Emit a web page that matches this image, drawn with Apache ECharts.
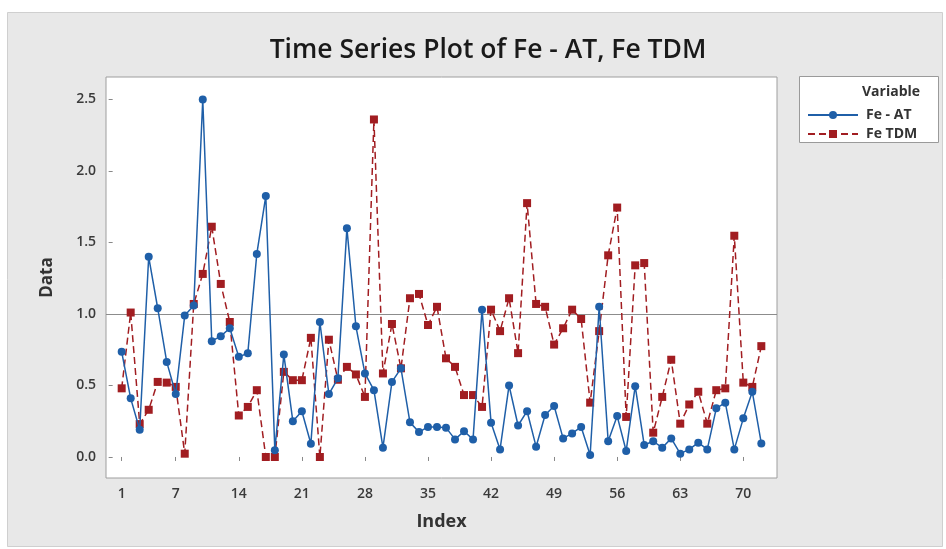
<!DOCTYPE html>
<html>
<head>
<meta charset="utf-8">
<script src="https://cdn.jsdelivr.net/npm/echarts/dist/echarts.min.js"></script>
<style>
  html, body { margin: 0; padding: 0; background: #ffffff; }
  #chart { width: 946px; height: 549px; }
</style>
</head>
<body>
<div id="chart"></div>
<script>
// ---- Data ----
const indexValues = Array.from({ length: 72 }, (_, i) => i + 1);
const feAT = [
  0.735, 0.41, 0.19, 1.40, 1.04, 0.665, 0.44, 0.99, 1.06, 2.50,
  0.81, 0.845, 0.90, 0.70, 0.725, 1.42, 1.825, 0.047, 0.716, 0.25,
  0.32, 0.093, 0.944, 0.44, 0.55, 1.60, 0.914, 0.584, 0.467, 0.065,
  0.525, 0.62, 0.242, 0.174, 0.21, 0.21, 0.205, 0.123, 0.18, 0.123,
  1.03, 0.24, 0.053, 0.50, 0.22, 0.32, 0.072, 0.293, 0.356, 0.13,
  0.165, 0.21, 0.014, 1.05, 0.11, 0.286, 0.042, 0.495, 0.084, 0.11,
  0.065, 0.13, 0.023, 0.053, 0.10, 0.053, 0.34, 0.38, 0.053, 0.27,
  0.456, 0.095
];
const feTDM = [
  0.48, 1.01, 0.23, 0.33, 0.525, 0.52, 0.49, 0.023, 1.07, 1.28,
  1.61, 1.21, 0.944, 0.29, 0.35, 0.467, 0.0, 0.0, 0.595, 0.537,
  0.537, 0.833, 0.0, 0.82, 0.54, 0.63, 0.577, 0.42, 2.36, 0.584,
  0.93, 0.62, 1.11, 1.14, 0.923, 1.05, 0.69, 0.63, 0.433, 0.433,
  0.35, 1.03, 0.88, 1.11, 0.726, 1.775, 1.07, 1.05, 0.786, 0.90,
  1.03, 0.965, 0.38, 0.88, 1.41, 1.744, 0.28, 1.34, 1.356, 0.17,
  0.42, 0.68, 0.233, 0.367, 0.456, 0.233, 0.467, 0.48, 1.547, 0.52,
  0.49, 0.775
];
const xTickLabels = [1, 7, 14, 21, 28, 35, 42, 49, 56, 63, 70];
const yTickLabels = [0, 0.5, 1.0, 1.5, 2.0, 2.5];
const referenceLevel = 1.0;
const seriesNames = ['Fe - AT', 'Fe TDM'];

// ---- Chart ----
const FONT = '"Open Sans", "Noto Sans", sans-serif';
const BLUE = '#1f5fa8';
const RED = '#a11d21';
const chart = echarts.init(document.getElementById('chart'), null, { renderer: 'canvas' });

const option = {
  backgroundColor: '#ffffff',
  animation: false,
  title: {
    text: 'Time Series Plot of Fe - AT, Fe TDM',
    left: 483,
    top: 32,
    textAlign: 'center',
    textStyle: { fontFamily: FONT, fontSize: 26.5, fontWeight: 600, color: '#1a1a1a' }
  },
  graphic: [
    {
      type: 'rect', z: -10, silent: true,
      shape: { x: 7.5, y: 12.5, width: 935, height: 534 },
      style: { fill: '#e8e8e8', stroke: '#cfcfcf', lineWidth: 1 }
    },
    {
      type: 'rect', z: -5, silent: true,
      shape: { x: 799.5, y: 76.5, width: 139, height: 66 },
      style: { fill: '#ffffff', stroke: '#9a9a9a', lineWidth: 1 }
    },
    {
      type: 'text', z: 10, silent: true,
      x: 862, y: 92,
      style: { text: 'Variable', fontFamily: FONT, fontSize: 14, fontWeight: 'bold', fill: '#333', verticalAlign: 'middle', align: 'left' }
    }
  ],
  legend: {
    orient: 'vertical',
    left: 802,
    top: 103,
    itemWidth: 50,
    itemHeight: 10,
    itemGap: 5,
    textStyle: { fontFamily: FONT, fontSize: 14, lineHeight: 14, fontWeight: 'bold', color: '#333', padding: [0, 0, 0, 3] },
    data: seriesNames
  },
  grid: {
    left: 106, right: 169, top: 77, bottom: 71,
    show: true, backgroundColor: '#ffffff', borderColor: '#9e9e9e', borderWidth: 1
  },
  xAxis: {
    type: 'value',
    min: -0.74,
    max: 73.74,
    splitLine: { show: false },
    axisLine: { show: false },
    axisTick: { show: true, customValues: xTickLabels, length: 4, lineStyle: { color: '#888' } },
    axisLabel: {
      customValues: xTickLabels, margin: 9,
      fontFamily: FONT, fontSize: 14, fontWeight: 600, color: '#3a3a3a'
    },
    name: 'Index',
    nameLocation: 'middle',
    nameGap: 35,
    nameTextStyle: { fontFamily: FONT, fontSize: 18, fontWeight: 'bold', color: '#333' }
  },
  yAxis: {
    type: 'value',
    min: -0.147,
    max: 2.657,
    splitLine: { show: false },
    axisLine: { show: false },
    axisTick: { show: true, customValues: yTickLabels, length: 4, lineStyle: { color: '#888' } },
    axisLabel: {
      customValues: yTickLabels, margin: 10,
      formatter: v => Number(v).toFixed(1),
      fontFamily: FONT, fontSize: 14, fontWeight: 600, color: '#3a3a3a'
    },
    name: 'Data',
    nameLocation: 'middle',
    nameGap: 50,
    nameTextStyle: { fontFamily: FONT, fontSize: 17, fontWeight: 'bold', color: '#333' }
  },
  series: [
    {
      name: seriesNames[0],
      type: 'line',
      data: indexValues.map((x, i) => [x, feAT[i]]),
      symbol: 'circle',
      symbolSize: 8,
      itemStyle: { color: BLUE },
      lineStyle: { color: BLUE, width: 1.5 },
      z: 3,
      markLine: {
        silent: true,
        symbol: ['none', 'none'],
        label: { show: false },
        lineStyle: { color: '#8c8c8c', width: 1, type: 'solid' },
        data: [{ yAxis: referenceLevel }],
        z: 1
      }
    },
    {
      name: seriesNames[1],
      type: 'line',
      data: indexValues.map((x, i) => [x, feTDM[i]]),
      symbol: 'rect',
      symbolSize: 8,
      itemStyle: { color: RED },
      lineStyle: { color: RED, width: 1.5, type: [7, 4] },
      z: 2
    }
  ]
};
chart.setOption(option);
</script>
</body>
</html>
